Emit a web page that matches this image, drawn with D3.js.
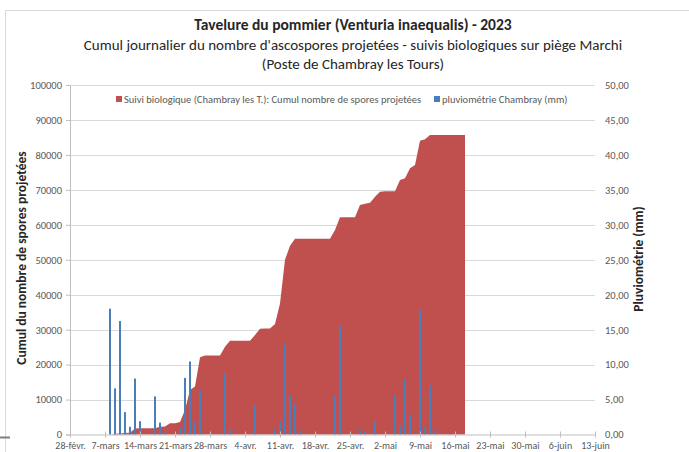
<!DOCTYPE html>
<html>
<head>
<meta charset="utf-8">
<script src="https://cdn.jsdelivr.net/npm/d3@7"></script>
<style>
  body { margin: 0; background: #fff; }
  text { font-family: Carlito, "Liberation Sans Narrow", "Liberation Sans", Arial, sans-serif; }
</style>
</head>
<body>
<div id="chart"></div>
<script>
// cumulative spore counts, one value per day starting at sporeStart
var sporeStart = "2023-03-08";
var sporeCumul = [
    0, 200, 300, 400, 500, 1700, 1770, 1770, 1770, 1800,
    2230, 2300, 3200, 3200, 3600, 7000, 12700, 13700, 22100, 22600,
    22600, 22600, 22600, 25100, 26800, 26850, 26850, 26850, 26850, 28470,
    30270, 30300, 30300, 31600, 37500, 50000, 54000, 56000, 56000, 56000,
    56000, 56000, 56000, 56000, 56000, 58500, 62150, 62150, 62150, 62150,
    65660, 66000, 66330, 68050, 69480, 69600, 69600, 69600, 72800, 73300,
    76170, 77100, 84070, 84460, 85700, 85700, 85700, 85700, 85700, 85700,
    85700, 85700
];

// daily rainfall (mm)
var rainDates = [
    "2023-03-08", "2023-03-09", "2023-03-10", "2023-03-11", "2023-03-12", "2023-03-13", "2023-03-14",
    "2023-03-17", "2023-03-18", "2023-03-19", "2023-03-22", "2023-03-23", "2023-03-24", "2023-03-25",
    "2023-03-26", "2023-03-31", "2023-04-01", "2023-04-06", "2023-04-10", "2023-04-11", "2023-04-12",
    "2023-04-13", "2023-04-14", "2023-04-15", "2023-04-22", "2023-04-23", "2023-04-27", "2023-04-28",
    "2023-04-30", "2023-05-04", "2023-05-05", "2023-05-06", "2023-05-07", "2023-05-09", "2023-05-10",
    "2023-05-11", "2023-05-12", "2023-05-15"
];
var rainMm = [
    18.0, 6.6, 16.25, 3.2, 1.1, 8.0, 1.9,
    5.45, 1.7, 0.3, 0.95, 8.1, 10.45, 1.95,
    6.35, 8.8, 0.7, 4.15, 0.67, 1.86, 12.9,
    5.58, 4.34, 0.57, 5.48, 15.6, 0.81, 0.43,
    1.9, 5.6, 1.2, 7.87, 2.86, 17.9, 1.05,
    6.96, 0.62, 0.1
];

var xTickLabels = ["28-févr.", "7-mars", "14-mars", "21-mars", "28-mars", "4-avr.", "11-avr.", "18-avr.",
    "25-avr.", "2-mai", "9-mai", "16-mai", "23-mai", "30-mai", "6-juin", "13-juin"];

(function() {
    var width = 689, height = 452;
    var plotLeft = 70, plotRight = 595, plotTop = 85, plotBottom = 434.5;
    var red = "#c0504d", blue = "#4a7ebb", grey = "#595959";

    var parse = d3.utcParse("%Y-%m-%d");
    var startDay = parse(sporeStart);
    var spores = sporeCumul.map(function(v, i) {
        return { date: d3.utcDay.offset(startDay, i), v: v };
    });
    var rain = rainDates.map(function(d, i) { return { date: parse(d), v: rainMm[i] }; });

    var x = d3.scaleUtc()
        .domain([parse("2023-02-28"), parse("2023-06-13")])
        .range([plotLeft, plotRight]);
    var yL = d3.scaleLinear().domain([0, 100000]).range([plotBottom, plotTop]);
    var yR = d3.scaleLinear().domain([0, 50]).range([plotBottom, plotTop]);

    var svg = d3.select("#chart").append("svg")
        .attr("width", width)
        .attr("height", height);

    // chart frame
    svg.append("rect")
        .attr("x", 5.5).attr("y", 10.5)
        .attr("width", width + 10).attr("height", height)
        .attr("fill", "none").attr("stroke", "#d9d9d9");
    svg.append("line")
        .attr("x1", 0).attr("x2", 10).attr("y1", 437.5).attr("y2", 437.5)
        .attr("stroke", "#7f7f7f").attr("stroke-width", 2);

    // titles
    var titles = svg.append("g").attr("text-anchor", "middle").attr("fill", "#262626");
    titles.append("text").attr("x", 353).attr("y", 30)
        .style("font-size", "15.5px").style("font-weight", "bold")
        .text("Tavelure du pommier (Venturia inaequalis) - 2023");
    titles.append("text").attr("x", 353).attr("y", 50)
        .style("font-size", "15px")
        .text("Cumul journalier du nombre d'ascospores projetées - suivis biologiques sur piège Marchi");
    titles.append("text").attr("x", 353).attr("y", 69)
        .style("font-size", "15px")
        .text("(Poste de Chambray les Tours)");

    // gridlines
    var yTicks = d3.range(0, 100001, 10000);
    svg.append("g").selectAll("line")
        .data(yTicks.slice(1))
        .join("line")
        .attr("x1", plotLeft).attr("x2", plotRight)
        .attr("y1", function(d) { return Math.round(yL(d)) + 0.5; })
        .attr("y2", function(d) { return Math.round(yL(d)) + 0.5; })
        .attr("stroke", "#d9d9d9");

    // cumulative area
    var area = d3.area()
        .x(function(d) { return x(d.date); })
        .y0(yL(0))
        .y1(function(d) { return yL(d.v); });
    svg.append("path")
        .datum(spores)
        .attr("d", area)
        .attr("fill", red);

    // rainfall bars
    svg.append("g").selectAll("rect")
        .data(rain)
        .join("rect")
        .attr("x", function(d) { return x(d.date) - 1; })
        .attr("width", 2)
        .attr("y", function(d) { return yR(d.v); })
        .attr("height", function(d) { return yR(0) - yR(d.v); })
        .attr("fill", blue);

    // left axis
    var gL = svg.append("g").attr("transform", "translate(" + plotLeft + ",0)");
    gL.call(d3.axisLeft(yL).tickValues(yTicks).tickSize(4).tickPadding(4).tickFormat(d3.format("d")));
    gL.select(".domain").attr("stroke", "#bfbfbf");
    gL.selectAll(".tick line").attr("stroke", "#bfbfbf");
    gL.selectAll("text").attr("fill", grey).style("font-size", "10.5px").style("font-family", null);

    // right axis
    var gR = svg.append("g").attr("transform", "translate(" + plotRight + ",0)");
    gR.call(d3.axisRight(yR).tickValues(d3.range(0, 51, 5)).tickSize(0).tickPadding(10)
        .tickFormat(function(d) { return d3.format(".2f")(d).replace(".", ","); }));
    gR.select(".domain").remove();
    gR.selectAll("text").attr("fill", grey).style("font-size", "10.5px").style("font-family", null);

    // x axis
    var xTickDates = xTickLabels.map(function(t, i) { return d3.utcDay.offset(parse("2023-02-28"), 7 * i); });
    var gX = svg.append("g").attr("transform", "translate(0," + plotBottom + ")");
    gX.call(d3.axisBottom(x).tickValues(xTickDates).tickSize(3).tickPadding(4)
        .tickFormat(function(d, i) { return xTickLabels[i]; }));
    gX.select(".domain").attr("stroke", "#bfbfbf");
    gX.selectAll(".tick line").attr("y1", -3).attr("y2", 3).attr("stroke", "#bfbfbf");
    gX.selectAll("text").attr("fill", grey).style("font-size", "10px").style("font-family", null);

    // axis titles
    svg.append("text")
        .attr("transform", "translate(26,258) rotate(-90)")
        .attr("text-anchor", "middle")
        .style("font-size", "13.5px").style("font-weight", "bold")
        .attr("fill", "#262626")
        .text("Cumul du nombre de spores projetées");
    svg.append("text")
        .attr("transform", "translate(643,259) rotate(-90)")
        .attr("text-anchor", "middle")
        .style("font-size", "13.5px").style("font-weight", "bold")
        .attr("fill", "#262626")
        .text("Pluviométrie (mm)");

    // legend
    var legend = svg.append("g").style("font-size", "10.5px").attr("fill", grey);
    legend.append("rect").attr("x", 116).attr("y", 96).attr("width", 6).attr("height", 6).attr("fill", red);
    legend.append("text").attr("x", 124).attr("y", 102.5)
        .text("Suivi biologique (Chambray les T.): Cumul nombre de spores projetées");
    legend.append("rect").attr("x", 434).attr("y", 96).attr("width", 6).attr("height", 6).attr("fill", blue);
    legend.append("text").attr("x", 442).attr("y", 102.5)
        .text("pluviométrie Chambray (mm)");
})();
</script>
</body>
</html>
